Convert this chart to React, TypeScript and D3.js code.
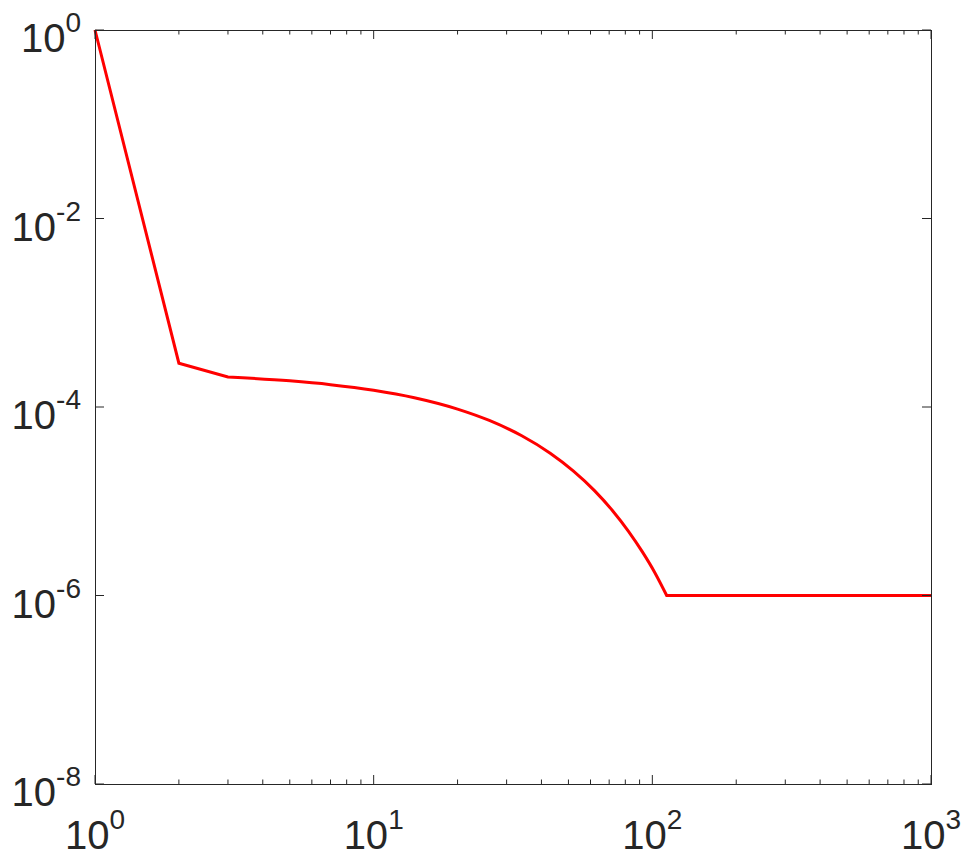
import React from "react";
import * as d3 from "d3";

// kinked start (linear), smooth middle, flat floor
const headX = [1, 2, 3];
const headY = [1, 2.917e-4, 2.08e-4];
const curveX = [3, 5, 7, 10, 14, 20, 26, 34, 43, 52, 62, 72, 82, 92, 102, 112.6];
const curveY = [2.08e-4, 1.894e-4, 1.727e-4, 1.507e-4, 1.255e-4, 9.51e-5, 7.2e-5, 4.95e-5, 3.233e-5, 2.102e-5, 1.297e-5, 7.94e-6, 4.83e-6, 2.92e-6, 1.757e-6, 1.0e-6];
const tailX = [112.6, 1000];
const tailY = [1.0e-6, 1.0e-6];
const xTickExps = [0, 1, 2, 3];
const yTickExps = [-8, -6, -4, -2, 0];

const W = 969;
const H = 866;
const M = { left: 95, right: 931, top: 30, bottom: 784 };
const FONT = "'Liberation Sans', Arial, Helvetica, sans-serif";
const TXT = "#262626";
const AX = "#262626";

export default function App() {
  const x = d3.scaleLog().domain([1, 1000]).range([M.left, M.right]);
  const y = d3.scaleLog().domain([1e-8, 1]).range([M.bottom, M.top]);

  const zip = (xs: number[], ys: number[]) => xs.map((v, i) => [v, ys[i]] as [number, number]);
  const lin = d3.line<[number, number]>().x((d) => x(d[0])).y((d) => y(d[1]));
  const smooth = d3
    .line<[number, number]>()
    .x((d) => x(d[0]))
    .y((d) => y(d[1]))
    .curve(d3.curveMonotoneX);

  const p1 = lin(zip(headX, headY)) || "";
  const p2 = (smooth(zip(curveX, curveY)) || "").replace(/^M[^LC]*/, "");
  const p3 = (lin(zip(tailX, tailY)) || "").replace(/^M[^LC]*/, "");
  const pathD = p1 + p2 + p3;

  const minorX: number[] = [];
  for (let e = 0; e < 3; e++) {
    for (let k = 2; k <= 9; k++) minorX.push(k * Math.pow(10, e));
  }
  const majorX = xTickExps.map((e) => Math.pow(10, e));
  const majorY = yTickExps.map((e) => Math.pow(10, e));

  const majorLen = 9;
  const minorLen = 4.5;

  return (
    <svg
      width={W}
      height={H}
      style={{ position: "absolute", left: 0, top: 0, background: "#fff" }}
    >
      <rect x={0} y={0} width={W} height={H} fill="#fff" />
      <path d={pathD} fill="none" stroke="#ff0000" strokeWidth={3} strokeLinejoin="miter" />
      <rect
        x={M.left}
        y={M.top}
        width={M.right - M.left}
        height={M.bottom - M.top}
        fill="none"
        stroke={AX}
        strokeWidth={1}
        shapeRendering="crispEdges"
      />
      {majorX.map((v, i) => (
        <g key={"mx" + i}>
          <line x1={x(v)} x2={x(v)} y1={M.bottom} y2={M.bottom - majorLen} stroke={AX} strokeWidth={1} />
          <line x1={x(v)} x2={x(v)} y1={M.top} y2={M.top + majorLen} stroke={AX} strokeWidth={1} />
        </g>
      ))}
      {minorX.map((v, i) => (
        <g key={"nx" + i}>
          <line x1={x(v)} x2={x(v)} y1={M.bottom} y2={M.bottom - minorLen} stroke={AX} strokeWidth={1} />
          <line x1={x(v)} x2={x(v)} y1={M.top} y2={M.top + minorLen} stroke={AX} strokeWidth={1} />
        </g>
      ))}
      {majorY.map((v, i) => (
        <g key={"my" + i}>
          <line x1={M.left} x2={M.left + majorLen} y1={y(v)} y2={y(v)} stroke={AX} strokeWidth={1} />
          <line x1={M.right} x2={M.right - majorLen} y1={y(v)} y2={y(v)} stroke={AX} strokeWidth={1} />
        </g>
      ))}
      {xTickExps.map((e, i) => (
        <text
          key={"xl" + i}
          x={x(Math.pow(10, e))}
          y={849}
          textAnchor="middle"
          fontFamily={FONT}
          fontSize={40}
          fill={TXT}
        >
          10
          <tspan dy={-20} fontSize={28}>
            {String(e)}
          </tspan>
        </text>
      ))}
      {yTickExps.map((e, i) => (
        <text
          key={"yl" + i}
          x={81}
          y={y(Math.pow(10, e)) + 22}
          textAnchor="end"
          fontFamily={FONT}
          fontSize={40}
          fill={TXT}
        >
          10
          <tspan dy={-20} fontSize={28}>
            {String(e)}
          </tspan>
        </text>
      ))}
    </svg>
  );
}
